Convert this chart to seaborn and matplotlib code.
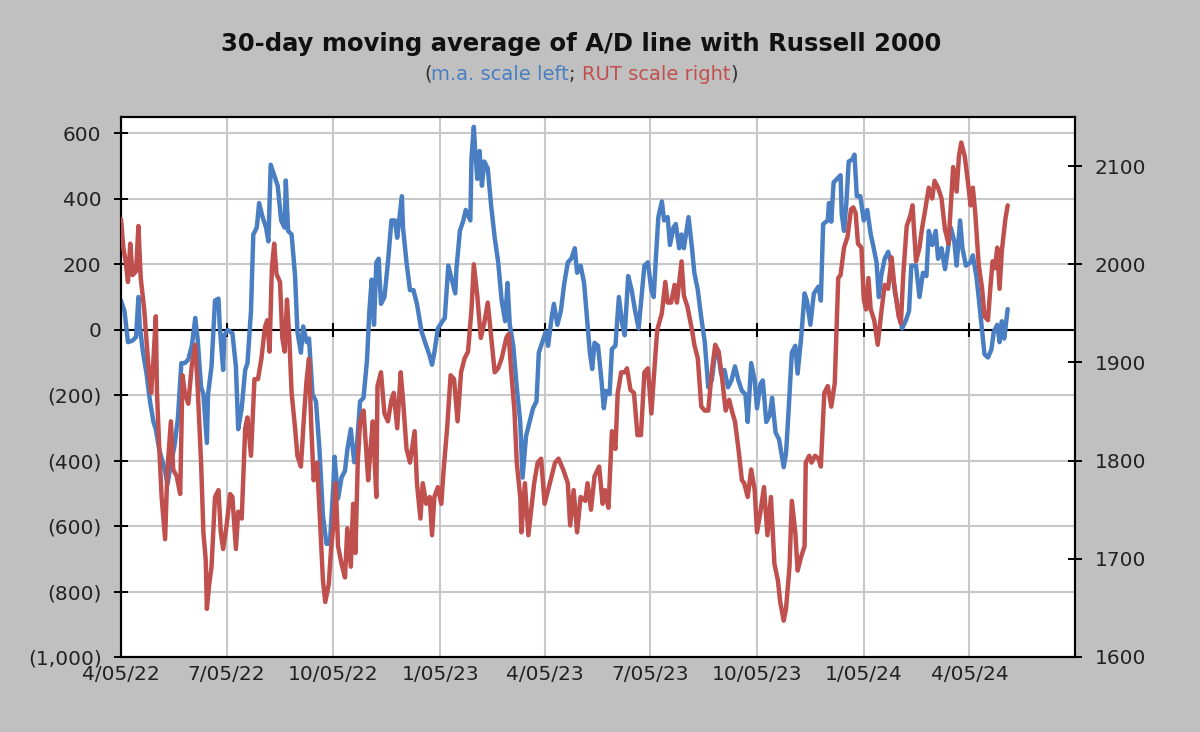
import numpy as np
import pandas as pd
import matplotlib
matplotlib.use("Agg")
import matplotlib.pyplot as plt
import matplotlib.dates as mdates
from matplotlib.ticker import FuncFormatter
import seaborn as sns

# ---------------- data ----------------
START = "2022-04-05"
END = "2024-07-05"

# 30-day moving average of the A/D line (left axis); day offsets from START
ma_day = [0, 3, 6, 10, 13, 15, 16, 19, 22, 25, 28, 30, 33, 38, 40, 43, 46, 49, 52, 55,
          58, 61, 64, 66, 69, 71, 74, 75, 78, 81, 84, 85, 88, 89, 92, 96, 99, 101, 104, 107,
          109, 112, 114, 117, 119, 122, 125, 127, 129, 132, 135, 138, 141, 142, 144, 147, 150, 152, 155, 157,
          160, 162, 165, 168, 171, 174, 177, 180, 183, 184, 187, 190, 193, 195, 198, 201, 203, 206, 209, 212,
          214, 216, 218, 220, 222, 224, 227, 230, 233, 236, 238, 242, 243, 246, 249, 252, 255, 259, 263, 266,
          268, 270, 273, 277, 279, 282, 285, 288, 289, 292, 295, 297, 301, 302, 304, 305, 307, 309, 311, 313,
          316, 319, 322, 325, 328, 331, 333, 335, 338, 341, 344, 346, 349, 352, 355, 358, 360, 364, 366, 368,
          371, 373, 376, 379, 382, 385, 388, 391, 393, 396, 399, 401, 404, 406, 408, 411, 414, 416, 418, 421,
          423, 426, 429, 432, 434, 437, 440, 443, 446, 449, 451, 454, 457, 459, 461, 463, 466, 468, 471, 473,
          476, 478, 481, 483, 485, 489, 492, 494, 497, 500, 503, 506, 509, 512, 515, 517, 520, 523, 526, 529,
          532, 535, 538, 540, 543, 546, 548, 551, 553, 556, 559, 561, 564, 567, 570, 571, 573, 575, 578, 581,
          583, 586, 589, 591, 594, 597, 601, 603, 605, 609, 610, 612, 614, 617, 620, 621, 623, 625, 627, 630,
          632, 634, 637, 640, 643, 646, 648, 651, 653, 655, 658, 661, 664, 667, 670, 673, 676, 679, 681, 685,
          688, 691, 694, 696, 699, 702, 704, 707, 710, 713, 715, 718, 720, 723, 725, 728, 732, 734, 737, 739,
          742, 744, 747, 750, 752, 755, 757, 759, 761, 764]
ma_val = [89, 57, -38, -33, -22, 100, 15, -70, -134, -219, -282, -304, -367, -431, -473, -410, -357, -272, -102, -102,
          -91, -49, 36, -27, -176, -197, -346, -197, -112, 89, 95, 15, -123, -17, -1, -11, -112, -304, -240, -123,
          -102, 57, 291, 312, 387, 344, 312, 270, 504, 472, 440, 334, 312, 456, 302, 291, 164, -6, -70, 10,
          -38, -27, -197, -219, -367, -569, -654, -654, -473, -388, -516, -452, -431, -367, -304, -405, -367, -219, -208, -91,
          57, 153, 15, 206, 217, 79, 100, 206, 334, 334, 281, 408, 312, 206, 121, 121, 79, -6, -49, -80,
          -107, -70, 4, 26, 36, 196, 153, 111, 185, 302, 334, 366, 334, 525, 620, 557, 461, 546, 440, 514,
          493, 376, 281, 206, 89, 26, 143, 15, -49, -176, -282, -452, -325, -282, -240, -219, -70, -27, -6, -49,
          36, 79, 15, 57, 143, 206, 217, 249, 174, 196, 143, 57, -70, -120, -40, -49, -155, -240, -187, -197,
          -59, -49, 100, 15, -17, 164, 121, 57, 4, 121, 196, 206, 121, 100, 227, 344, 392, 334, 344, 259,
          312, 323, 249, 291, 249, 344, 249, 174, 121, 36, -38, -176, -155, -70, -80, -134, -123, -176, -155, -112,
          -155, -187, -197, -282, -102, -155, -240, -165, -155, -282, -261, -208, -314, -335, -399, -420, -378, -261, -70, -49,
          -134, -27, 111, 89, 15, 111, 132, 89, 323, 334, 387, 330, 450, 461, 472, 355, 302, 387, 514, 520,
          535, 408, 408, 334, 366, 291, 259, 206, 100, 164, 217, 238, 196, 111, 57, 4, 26, 57, 196, 196,
          100, 174, 164, 302, 259, 302, 217, 249, 185, 259, 312, 270, 196, 334, 249, 196, 206, 227, 164, 100,
          -6, -75, -85, -60, -6, 15, -38, 26, -27, 63]

# Russell 2000 (right axis); day offsets from START
rut_day = [0, 2, 4, 6, 8, 10, 13, 15, 17, 20, 22, 24, 26, 28, 30, 31, 33, 35, 38, 40,
           43, 45, 48, 51, 53, 55, 58, 61, 64, 66, 69, 71, 73, 74, 76, 78, 81, 84, 86, 88,
           91, 94, 96, 99, 101, 104, 107, 109, 112, 115, 118, 121, 124, 126, 128, 130, 132, 134, 137, 139,
           141, 143, 145, 147, 150, 152, 155, 158, 160, 162, 164, 166, 169, 172, 174, 176, 179, 181, 183, 185,
           187, 190, 193, 195, 198, 200, 202, 204, 206, 209, 211, 213, 215, 217, 220, 221, 224, 227, 230, 233,
           235, 238, 241, 243, 246, 249, 253, 255, 258, 260, 263, 266, 268, 270, 273, 276, 278, 281, 284, 287,
           290, 293, 296, 299, 302, 304, 307, 310, 313, 316, 319, 322, 325, 328, 332, 334, 336, 339, 341, 344,
           345, 348, 351, 354, 356, 359, 362, 365, 368, 371, 374, 377, 381, 385, 387, 390, 393, 396, 400, 402,
           405, 408, 412, 415, 417, 420, 423, 426, 428, 431, 434, 436, 439, 442, 445, 448, 451, 454, 457, 459,
           462, 466, 469, 471, 474, 477, 479, 481, 483, 485, 488, 492, 494, 497, 500, 503, 506, 509, 512, 515,
           518, 521, 524, 527, 529, 532, 535, 537, 540, 543, 546, 548, 551, 554, 557, 560, 563, 566, 568, 571,
           573, 576, 578, 581, 583, 586, 589, 590, 593, 595, 598, 601, 603, 606, 609, 612, 615, 618, 620, 623,
           626, 629, 631, 633, 635, 638, 640, 642, 644, 646, 649, 652, 655, 658, 661, 664, 666, 670, 672, 674,
           677, 680, 682, 685, 688, 690, 693, 696, 699, 701, 704, 707, 710, 713, 715, 717, 720, 722, 724, 727,
           730, 732, 734, 736, 739, 742, 744, 747, 749, 751, 753, 755, 757, 759, 762, 764]
rut_val = [2046, 2017, 2003, 1982, 2021, 1989, 1993, 2039, 1986, 1954, 1922, 1890, 1869, 1904, 1947, 1869, 1812, 1763, 1720, 1791,
           1840, 1791, 1784, 1766, 1887, 1869, 1858, 1897, 1918, 1876, 1798, 1727, 1699, 1649, 1674, 1692, 1763, 1770, 1727, 1710,
           1734, 1766, 1763, 1710, 1748, 1741, 1833, 1844, 1805, 1883, 1883, 1904, 1936, 1943, 1911, 1996, 2021, 1990, 1982, 1925,
           1911, 1964, 1925, 1869, 1833, 1805, 1794, 1851, 1883, 1904, 1833, 1780, 1798, 1727, 1678, 1656, 1674, 1710, 1734, 1777,
           1713, 1695, 1681, 1731, 1692, 1756, 1706, 1798, 1840, 1851, 1816, 1780, 1812, 1840, 1763, 1876, 1890, 1848, 1840, 1862,
           1869, 1833, 1890, 1862, 1812, 1798, 1830, 1777, 1741, 1777, 1756, 1763, 1724, 1763, 1773, 1756, 1791, 1833, 1887, 1883,
           1840, 1890, 1904, 1911, 1954, 2000, 1968, 1925, 1940, 1961, 1925, 1890, 1894, 1904, 1925, 1929, 1894, 1851, 1798, 1763,
           1727, 1777, 1724, 1756, 1777, 1798, 1802, 1756, 1770, 1784, 1798, 1802, 1791, 1777, 1734, 1770, 1727, 1763, 1759, 1777,
           1750, 1784, 1794, 1756, 1770, 1752, 1830, 1812, 1869, 1890, 1890, 1894, 1872, 1869, 1826, 1826, 1890, 1894, 1848, 1883,
           1933, 1950, 1982, 1961, 1961, 1979, 1961, 1982, 2003, 1968, 1957, 1933, 1918, 1904, 1855, 1851, 1851, 1890, 1918, 1911,
           1883, 1851, 1862, 1848, 1840, 1812, 1780, 1777, 1763, 1791, 1770, 1727, 1748, 1773, 1724, 1763, 1695, 1678, 1656, 1637,
           1649, 1692, 1759, 1727, 1688, 1702, 1713, 1798, 1805, 1798, 1805, 1802, 1794, 1869, 1876, 1855, 1879, 1986, 1989, 2017,
           2028, 2056, 2058, 2052, 2021, 2017, 1964, 1954, 1986, 1954, 1943, 1918, 1950, 1979, 1975, 2007, 1982, 1947, 1940, 1989,
           2039, 2049, 2060, 2003, 2017, 2035, 2056, 2078, 2067, 2085, 2078, 2067, 2035, 2021, 2060, 2099, 2074, 2110, 2124, 2110,
           2081, 2060, 2078, 2053, 2000, 1975, 1947, 1943, 1975, 2003, 1996, 2017, 1975, 2014, 2046, 2060]

x_tick_dates = ["2022-04-05", "2022-07-05", "2022-10-05", "2023-01-05", "2023-04-05",
                "2023-07-05", "2023-10-05", "2024-01-05", "2024-04-05"]
left_ticks = [-1000, -800, -600, -400, -200, 0, 200, 400, 600]
right_ticks = [1600, 1700, 1800, 1900, 2000, 2100]

TITLE = "30-day moving average of A/D line with Russell 2000"
SUB_PIECES = [("(", "dark"), ("m.a. scale left", "blue"), ("; ", "dark"),
              ("RUT scale right", "red"), (")", "dark")]

# ---------------- style ----------------
BG = "#C0C0C0"
BLUE = "#4A7EC2"
RED = "#C0504D"
DARK = "#303030"
GRID = "#C8C8C8"
COLORS = {"blue": BLUE, "red": RED, "dark": DARK}

sns.set_theme(style="white")
plt.rcParams["font.family"] = ["DejaVu Sans"]

W, H = 1200, 732
fig = plt.figure(figsize=(W / 100, H / 100), dpi=100, facecolor=BG)
L, R, T, B = 121, 1075, 117, 657
ax = fig.add_axes([L / W, 1 - B / H, (R - L) / W, (B - T) / H])
ax.set_facecolor("white")

start = pd.Timestamp(START)
df_ma = pd.DataFrame({"date": start + pd.to_timedelta(ma_day, unit="D"), "value": ma_val})
df_rut = pd.DataFrame({"date": start + pd.to_timedelta(rut_day, unit="D"), "value": rut_val})

sns.lineplot(data=df_ma, x="date", y="value", ax=ax, color=BLUE, linewidth=3.2,
             estimator=None, zorder=3)
ax.axhline(0, color="black", linewidth=1.5, zorder=2.5)

ax2 = ax.twinx()
sns.lineplot(data=df_rut, x="date", y="value", ax=ax2, color=RED, linewidth=3.2,
             estimator=None, zorder=3)

ax.set_xlim(pd.Timestamp(START), pd.Timestamp(END))
ax.set_ylim(-1000, 650)
ax2.set_ylim(1600, 2150)

tick_dt = pd.to_datetime(x_tick_dates)
ax.set_xticks(mdates.date2num(tick_dt))


def date_fmt(v, pos):
    d = mdates.num2date(v)
    return f"{d.month}/{d.day:02d}/{d:%y}"


def paren_fmt(v, pos):
    return f"({abs(v):,.0f})" if v < 0 else f"{v:,.0f}"


ax.xaxis.set_major_formatter(FuncFormatter(date_fmt))
ax.set_yticks(left_ticks)
ax.yaxis.set_major_formatter(FuncFormatter(paren_fmt))
ax2.set_yticks(right_ticks)

ax.grid(True, color=GRID, linewidth=1.5)
ax.set_axisbelow(True)
ax2.grid(False)

# tick marks of the date axis sit on the zero line
ax.plot(mdates.date2num(tick_dt), np.zeros(len(tick_dt)), linestyle="none",
        marker="|", markersize=10, markeredgewidth=1.5, color="black", zorder=2.6)

TICK_FS = 14.5
ax.tick_params(axis="x", length=0, pad=6, labelsize=TICK_FS, labelcolor="#222222")
ax.tick_params(axis="y", direction="inout", length=10, width=1.4, color="black",
               pad=9, labelsize=TICK_FS, labelcolor="#222222", left=True)
ax2.tick_params(axis="y", direction="inout", length=10, width=1.4, color="black",
                pad=9, labelsize=TICK_FS, labelcolor="#222222", right=True)

for a in (ax, ax2):
    a.set_xlabel("")
    a.set_ylabel("")
    for s in a.spines.values():
        s.set_color("black")
        s.set_linewidth(1.5)
        s.set_visible(True)

# ---------------- titles ----------------
CX = 581 / W
fig.text(CX, 1 - 44 / H, TITLE, ha="center", va="center", fontsize=17.5,
         fontweight="bold", color="#111111")

renderer = fig.canvas.get_renderer()
SUB_FS = 14
sub_y = 1 - 74 / H


def text_width(s):
    t = fig.text(0, 0, s, fontsize=SUB_FS)
    w = t.get_window_extent(renderer).width
    t.remove()
    return w


full = "".join(p for p, _ in SUB_PIECES)
total = text_width(full)
bar = text_width("|")
x0 = CX * W - total / 2
prefix = ""
for piece, col in SUB_PIECES:
    off = text_width(prefix + "|") - bar if prefix else 0.0
    fig.text((x0 + off) / W, sub_y, piece, ha="left", va="center",
             fontsize=SUB_FS, color=COLORS[col])
    prefix += piece

fig.savefig("out.png", dpi=100, facecolor=BG)
